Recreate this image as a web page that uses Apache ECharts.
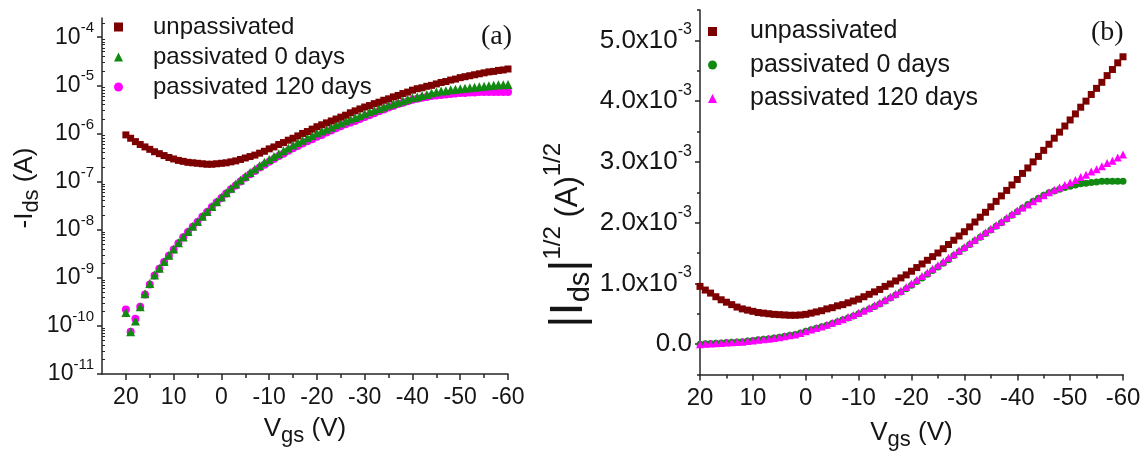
<!DOCTYPE html>
<html>
<head>
<meta charset="UTF-8">
<title>Transfer curves</title>
<script src="https://cdn.jsdelivr.net/npm/echarts@6/dist/echarts.min.js"></script>
<style>
    html, body { margin: 0; padding: 0; background: #fff; }
    #chart { width: 1142px; height: 452px; }
</style>
</head>
<body>
<div id="chart"></div>
<script type="text/javascript">
// gate voltage sweep (V)
var vgs = [20, 19, 18, 17, 16, 15, 14, 13, 12, 11,
    10, 9, 8, 7, 6, 5, 4, 3, 2, 1,
    0, -1, -2, -3, -4, -5, -6, -7, -8, -9,
    -10, -11, -12, -13, -14, -15, -16, -17, -18, -19,
    -20, -21, -22, -23, -24, -25, -26, -27, -28, -29,
    -30, -31, -32, -33, -34, -35, -36, -37, -38, -39,
    -40, -41, -42, -43, -44, -45, -46, -47, -48, -49,
    -50, -51, -52, -53, -54, -55, -56, -57, -58, -59,
    -60];

// panel (a): log10 of -Ids (A)
var logIdsUnpass = [-6.03, -6.10, -6.17, -6.23, -6.28, -6.33, -6.38, -6.42, -6.46, -6.50,
    -6.53, -6.56, -6.58, -6.60, -6.61, -6.62, -6.63, -6.64, -6.64, -6.63,
    -6.62, -6.61, -6.59, -6.57, -6.54, -6.51, -6.48, -6.45, -6.41, -6.37,
    -6.32, -6.28, -6.23, -6.19, -6.14, -6.10, -6.05, -6.00, -5.96, -5.91,
    -5.86, -5.82, -5.78, -5.74, -5.70, -5.66, -5.62, -5.57, -5.53, -5.49,
    -5.45, -5.42, -5.38, -5.35, -5.31, -5.28, -5.24, -5.21, -5.17, -5.14,
    -5.10, -5.07, -5.05, -5.02, -5.00, -4.97, -4.94, -4.92, -4.89, -4.87,
    -4.84, -4.82, -4.80, -4.78, -4.76, -4.74, -4.72, -4.71, -4.69, -4.68,
    -4.66];
var logIdsPass0 = [-9.72, -10.12, -9.90, -9.60, -9.33, -9.12, -8.94, -8.80, -8.66, -8.53,
    -8.40, -8.27, -8.15, -8.04, -7.93, -7.83, -7.72, -7.62, -7.52, -7.42,
    -7.32, -7.23, -7.14, -7.05, -6.97, -6.89, -6.81, -6.74, -6.67, -6.60,
    -6.54, -6.48, -6.42, -6.36, -6.30, -6.24, -6.19, -6.14, -6.09, -6.04,
    -5.99, -5.95, -5.91, -5.87, -5.82, -5.78, -5.74, -5.70, -5.67, -5.63,
    -5.59, -5.55, -5.52, -5.48, -5.45, -5.41, -5.38, -5.35, -5.32, -5.29,
    -5.26, -5.24, -5.21, -5.19, -5.16, -5.14, -5.12, -5.11, -5.09, -5.08,
    -5.07, -5.06, -5.05, -5.04, -5.03, -5.02, -5.01, -5.00, -4.99, -4.99,
    -4.98];
var logIdsPass120 = [-9.66, -10.12, -9.85, -9.60, -9.35, -9.14, -8.95, -8.81, -8.67, -8.54,
    -8.41, -8.28, -8.16, -8.05, -7.94, -7.84, -7.73, -7.63, -7.53, -7.43,
    -7.34, -7.25, -7.16, -7.08, -7.00, -6.92, -6.85, -6.78, -6.71, -6.65,
    -6.59, -6.53, -6.47, -6.42, -6.36, -6.31, -6.26, -6.21, -6.16, -6.12,
    -6.07, -6.03, -5.98, -5.94, -5.89, -5.85, -5.81, -5.77, -5.74, -5.70,
    -5.66, -5.62, -5.58, -5.54, -5.50, -5.46, -5.43, -5.39, -5.36, -5.33,
    -5.30, -5.28, -5.26, -5.24, -5.22, -5.21, -5.20, -5.19, -5.18, -5.17,
    -5.16, -5.16, -5.15, -5.15, -5.14, -5.14, -5.14, -5.14, -5.14, -5.14,
    -5.14];

// panel (b): |Ids|^1/2 in units of 1e-3 A^1/2
var sqrtUnpass = [0.95, 0.89, 0.84, 0.78, 0.73, 0.69, 0.65, 0.61, 0.58, 0.56,
    0.54, 0.52, 0.51, 0.50, 0.49, 0.485, 0.48, 0.475, 0.475, 0.48,
    0.49, 0.51, 0.53, 0.55, 0.58, 0.60, 0.63, 0.65, 0.68, 0.71,
    0.74, 0.78, 0.82, 0.86, 0.90, 0.95, 0.99, 1.04, 1.09, 1.14,
    1.20, 1.26, 1.32, 1.38, 1.44, 1.50, 1.57, 1.64, 1.71, 1.78,
    1.85, 1.93, 2.01, 2.09, 2.17, 2.26, 2.35, 2.44, 2.53, 2.62,
    2.71, 2.81, 2.90, 3.00, 3.09, 3.19, 3.29, 3.39, 3.49, 3.59,
    3.69, 3.79, 3.90, 4.00, 4.11, 4.21, 4.31, 4.42, 4.52, 4.63,
    4.73];
var sqrtPass0 = [0.000, 0.005, 0.010, 0.015, 0.020, 0.025, 0.030, 0.035, 0.040, 0.050,
    0.060, 0.070, 0.080, 0.090, 0.100, 0.115, 0.130, 0.145, 0.160, 0.185,
    0.21, 0.235, 0.26, 0.285, 0.31, 0.34, 0.37, 0.40, 0.43, 0.465,
    0.50, 0.54, 0.58, 0.62, 0.66, 0.71, 0.76, 0.81, 0.86, 0.91,
    0.97, 1.03, 1.09, 1.15, 1.21, 1.27, 1.33, 1.39, 1.46, 1.52,
    1.58, 1.64, 1.70, 1.76, 1.82, 1.88, 1.94, 2.00, 2.06, 2.12,
    2.18, 2.24, 2.30, 2.35, 2.40, 2.45, 2.49, 2.52, 2.55, 2.58,
    2.60, 2.62, 2.64, 2.65, 2.66, 2.67, 2.68, 2.68, 2.68, 2.68,
    2.68];
var sqrtPass120 = [0.000, 0.005, 0.010, 0.015, 0.020, 0.025, 0.030, 0.035, 0.040, 0.050,
    0.060, 0.070, 0.080, 0.090, 0.100, 0.115, 0.130, 0.145, 0.160, 0.185,
    0.21, 0.24, 0.265, 0.29, 0.32, 0.35, 0.38, 0.41, 0.445, 0.48,
    0.515, 0.555, 0.595, 0.64, 0.68, 0.73, 0.78, 0.83, 0.88, 0.94,
    1.00, 1.06, 1.12, 1.18, 1.24, 1.30, 1.36, 1.42, 1.48, 1.54,
    1.60, 1.66, 1.72, 1.78, 1.84, 1.90, 1.96, 2.02, 2.08, 2.14,
    2.20, 2.25, 2.30, 2.35, 2.40, 2.45, 2.50, 2.54, 2.58, 2.62,
    2.66, 2.70, 2.75, 2.79, 2.84, 2.88, 2.93, 2.98, 3.02, 3.07,
    3.12];

// tick positions
var vgsTicks = [20, 10, 0, -10, -20, -30, -40, -50, -60];
var vgsMinorTicks = [15, 5, -5, -15, -25, -35, -45, -55];
var decadeTicks = [-11, -10, -9, -8, -7, -6, -5, -4];
var sqrtTicks = [0, 1, 2, 3, 4, 5];
var sqrtMinorTicks = [-0.5, 0.5, 1.5, 2.5, 3.5, 4.5, 5.5];

var legendNames = ['unpassivated', 'passivated 0 days', 'passivated 120 days'];

// log minor ticks (2..9 within each decade)
var logMinorTicks = [];
decadeTicks.forEach(function (d) {
    for (var k = 2; k <= 9; k++) {
        var t = d + Math.log10(k);
        if (t < -3.6) logMinorTicks.push(t);
    }
});

var RED = '#7d0000', GREEN = '#128a12', MAGENTA = '#ff00ff';
var FONT = 'Liberation Sans, Arial, sans-serif';
var INK = '#151515';

function pairs(ys) {
    return vgs.map(function (v, i) { return [v, ys[i]]; });
}

function stripPrefix(name) {
    return '{t|' + name.slice(2) + '}';
}

var axisLineStyle = {color: '#262626', width: 1.5};

// "10" + raised exponent
var supRich = function (base, sup, line) {
    return {
        b: {fontSize: base, fontFamily: FONT, color: INK, lineHeight: line},
        s: {fontSize: sup, fontFamily: FONT, color: INK, lineHeight: sup, verticalAlign: 'top'}
    };
};

var chartDom = document.getElementById('chart');
var myChart = echarts.init(chartDom);
var option;

option = {
    animation: false,
    backgroundColor: '#fff',
    title: [
        {text: '(a)', left: 476, top: 18, textStyle: {fontFamily: 'Liberation Serif, Times New Roman, serif', fontSize: 28, fontWeight: 'normal', color: INK}},
        {text: '(b)', left: 1086, top: 14, textStyle: {fontFamily: 'Liberation Serif, Times New Roman, serif', fontSize: 28, fontWeight: 'normal', color: INK}}
    ],
    legend: [
        {
            orient: 'vertical', left: 114, top: 15, padding: 0, itemWidth: 9, itemHeight: 9, itemGap: 6,
            selectedMode: false,
            data: ['a:' + legendNames[0], 'a:' + legendNames[1], 'a:' + legendNames[2]],
            formatter: stripPrefix,
            textStyle: {rich: {t: {fontSize: 24, fontFamily: FONT, color: INK, lineHeight: 28, padding: [0, 0, 0, 25]}}}
        },
        {
            orient: 'vertical', left: 708, top: 19, padding: 0, itemWidth: 9, itemHeight: 9, itemGap: 8.5,
            selectedMode: false,
            data: ['b:' + legendNames[0], 'b:' + legendNames[1], 'b:' + legendNames[2]],
            formatter: stripPrefix,
            textStyle: {rich: {t: {fontSize: 25, fontFamily: FONT, color: INK, lineHeight: 28, padding: [0, 0, 0, 28]}}}
        }
    ],
    grid: [
        {left: 102, top: 18, width: 406, height: 356, outerBoundsMode: 'none', containLabel: false},
        {left: 700, top: 10, width: 423, height: 364.5, outerBoundsMode: 'none', containLabel: false}
    ],
    xAxis: [
        {
            gridIndex: 0, type: 'value', position: 'bottom', min: -60, max: 25, interval: 5, inverse: true,
            splitLine: {show: false},
            axisLine: {onZero: false, lineStyle: axisLineStyle},
            axisTick: {customValues: vgsTicks, length: 6, lineStyle: axisLineStyle},
            axisLabel: {customValues: vgsTicks, fontSize: 23, fontFamily: FONT, color: INK, margin: 12},
            name: '{b|V}{u|gs}{b| (V)}', nameLocation: 'middle', nameGap: 37,
            nameTextStyle: {rich: {
                b: {fontSize: 26, fontFamily: FONT, color: INK, lineHeight: 36},
                u: {fontSize: 22, fontFamily: FONT, color: INK, lineHeight: 22, verticalAlign: 'bottom'}
            }}
        },
        {
            gridIndex: 0, type: 'value', position: 'bottom', min: -60, max: 25, interval: 5, inverse: true,
            splitLine: {show: false},
            axisLine: {show: false, onZero: false},
            axisTick: {customValues: vgsMinorTicks, length: 4, lineStyle: axisLineStyle},
            axisLabel: {show: false}
        },
        {
            gridIndex: 1, type: 'value', position: 'bottom', min: -60, max: 20, interval: 10, inverse: true,
            splitLine: {show: false},
            axisLine: {onZero: false, lineStyle: axisLineStyle},
            axisTick: {customValues: vgsTicks, length: 6, lineStyle: axisLineStyle},
            axisLabel: {customValues: vgsTicks, fontSize: 24, fontFamily: FONT, color: INK, margin: 12},
            name: '{b|V}{u|gs}{b| (V)}', nameLocation: 'middle', nameGap: 40,
            nameTextStyle: {rich: {
                b: {fontSize: 26, fontFamily: FONT, color: INK, lineHeight: 36},
                u: {fontSize: 22, fontFamily: FONT, color: INK, lineHeight: 22, verticalAlign: 'bottom'}
            }}
        },
        {
            gridIndex: 1, type: 'value', position: 'bottom', min: -60, max: 20, interval: 10, inverse: true,
            splitLine: {show: false},
            axisLine: {show: false, onZero: false},
            axisTick: {customValues: vgsMinorTicks, length: 4, lineStyle: axisLineStyle},
            axisLabel: {show: false}
        }
    ],
    yAxis: [
        {
            gridIndex: 0, type: 'value', position: 'left', min: -11, max: -3.6, interval: 1,
            splitLine: {show: false},
            axisLine: {onZero: false, lineStyle: axisLineStyle},
            axisTick: {customValues: decadeTicks, length: 5, lineStyle: axisLineStyle},
            axisLabel: {
                customValues: decadeTicks, margin: 8,
                formatter: function (v) { return '{b|10}{s|' + v + '}'; },
                rich: supRich(23, 15, 33)
            },
            name: '{p|-I}{u|ds}{b| (A)}', nameLocation: 'middle', nameRotate: 90, nameGap: 48,
            nameTextStyle: {rich: {
                b: {fontSize: 26, fontFamily: FONT, color: INK, lineHeight: 36},
                u: {fontSize: 22, fontFamily: FONT, color: INK, lineHeight: 22, verticalAlign: 'bottom'},
                p: {fontSize: 26, fontFamily: FONT, color: INK, lineHeight: 36, padding: [0, 0, 0, 16]}
            }}
        },
        {
            gridIndex: 0, type: 'value', position: 'left', min: -11, max: -3.6, interval: 1,
            splitLine: {show: false},
            axisLine: {show: false, onZero: false},
            axisTick: {customValues: logMinorTicks, inside: true, length: 3, lineStyle: {color: '#262626', width: 1}},
            axisLabel: {show: false}
        },
        {
            gridIndex: 1, type: 'value', position: 'left', min: -0.5, max: 5.5, interval: 0.5,
            splitLine: {show: false},
            axisLine: {onZero: false, lineStyle: axisLineStyle},
            axisTick: {customValues: sqrtTicks, length: 5, lineStyle: axisLineStyle},
            axisLabel: {
                customValues: sqrtTicks, margin: 8,
                formatter: function (v) {
                    return v === 0 ? '{b|0.0}' : '{b|' + v.toFixed(1) + 'x10}{s|-3}';
                },
                rich: supRich(26, 16, 37)
            },
            name: '{B||I}{u|ds}{B||}{s|1/2}{b| (A)}{e|1/2}{z| }', nameLocation: 'middle', nameRotate: 90, nameGap: 98,
            nameTextStyle: {rich: {
                B: {fontSize: 47, fontFamily: FONT, color: INK, lineHeight: 54},
                b: {fontSize: 31, fontFamily: FONT, color: INK, lineHeight: 54},
                u: {fontSize: 29, fontFamily: FONT, color: INK, lineHeight: 29, verticalAlign: 'bottom'},
                s: {fontSize: 24, fontFamily: FONT, color: INK, lineHeight: 24, verticalAlign: 'top'},
                e: {fontSize: 24, fontFamily: FONT, color: INK, lineHeight: 24, verticalAlign: 'top', padding: [0, 34, 0, 0]},
                z: {fontSize: 24, width: 52, lineHeight: 24}
            }}
        },
        {
            gridIndex: 1, type: 'value', position: 'left', min: -0.5, max: 5.5, interval: 0.5,
            splitLine: {show: false},
            axisLine: {show: false, onZero: false},
            axisTick: {customValues: sqrtMinorTicks, length: 3, lineStyle: axisLineStyle},
            axisLabel: {show: false}
        }
    ],
    series: [
        {name: 'a:' + legendNames[2], type: 'scatter', xAxisIndex: 0, yAxisIndex: 0, symbol: 'circle', symbolSize: 8,
            itemStyle: {color: MAGENTA, opacity: 1}, data: pairs(logIdsPass120)},
        {name: 'a:' + legendNames[1], type: 'scatter', xAxisIndex: 0, yAxisIndex: 0, symbol: 'triangle', symbolSize: 9,
            itemStyle: {color: GREEN, opacity: 1}, data: pairs(logIdsPass0)},
        {name: 'a:' + legendNames[0], type: 'scatter', xAxisIndex: 0, yAxisIndex: 0, symbol: 'rect', symbolSize: 7,
            itemStyle: {color: RED, opacity: 1}, data: pairs(logIdsUnpass)},
        {name: 'b:' + legendNames[0], type: 'scatter', xAxisIndex: 2, yAxisIndex: 2, symbol: 'rect', symbolSize: 7,
            itemStyle: {color: RED, opacity: 1}, data: pairs(sqrtUnpass)},
        {name: 'b:' + legendNames[1], type: 'scatter', xAxisIndex: 2, yAxisIndex: 2, symbol: 'circle', symbolSize: 7,
            itemStyle: {color: GREEN, opacity: 1}, data: pairs(sqrtPass0)},
        {name: 'b:' + legendNames[2], type: 'scatter', xAxisIndex: 2, yAxisIndex: 2, symbol: 'triangle', symbolSize: 8,
            itemStyle: {color: MAGENTA, opacity: 1}, data: pairs(sqrtPass120)}
    ]
};

option && myChart.setOption(option);
</script>
</body>
</html>
